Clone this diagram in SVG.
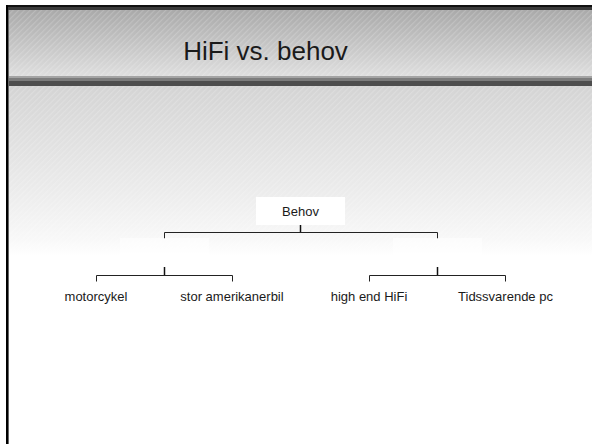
<svg xmlns="http://www.w3.org/2000/svg" width="592" height="444" viewBox="0 0 592 444">
<defs>
<linearGradient id="hdr" x1="0" y1="0" x2="0" y2="1">
<stop offset="0" stop-color="#a9a9a9"/>
<stop offset="1" stop-color="#dedede"/>
</linearGradient>
<linearGradient id="body" x1="0" y1="0" x2="0" y2="1">
<stop offset="0" stop-color="#d4d4d4"/>
<stop offset="0.6" stop-color="#ebebeb"/>
<stop offset="0.9" stop-color="#f8f8f8"/>
<stop offset="1" stop-color="#ffffff"/>
</linearGradient>
<pattern id="hatch" width="4" height="4" patternUnits="userSpaceOnUse" patternTransform="rotate(-45)">
<rect width="4" height="1.2" fill="#ffffff" opacity="0.18"/>
</pattern>
<style>
.lbl{font-family:"Liberation Sans",Arial,sans-serif;font-size:13px;fill:#1a1a1a;text-anchor:middle}
.title{font-family:"Liberation Sans",Arial,sans-serif;font-size:26px;fill:#1a1a1a;text-anchor:middle}
.ln{stroke:#222;stroke-width:1;fill:none}
.tk{stroke:#111;stroke-width:1.5;fill:none}
.box{fill:#ffffff}
.ghost{fill:#ffffff;opacity:0.5}
</style>
</defs>
<rect width="592" height="444" fill="#ffffff"/>
<rect x="6" y="86" width="586" height="170" fill="url(#body)"/>
<rect x="6" y="86" width="586" height="170" fill="url(#hatch)"/>
<rect x="6" y="10" width="586" height="66" fill="url(#hdr)"/>
<rect x="6" y="10" width="586" height="66" fill="url(#hatch)"/>
<rect x="6" y="5" width="586" height="2" fill="#111"/>
<rect x="6" y="7" width="586" height="3" fill="#3a3a3a"/>
<rect x="6" y="76" width="586" height="2" fill="#a4a4a4"/>
<rect x="6" y="78" width="586" height="3" fill="#7c7c7c"/>
<rect x="6" y="81" width="586" height="5" fill="#4e4e4e"/>
<rect x="6" y="5" width="2" height="439" fill="#000"/>
<rect x="8" y="10" width="1" height="434" fill="#666"/>
<text class="title" x="265.5" y="60">HiFi vs. behov</text>
<g id="connectors">
<line class="tk" x1="300.5" y1="225" x2="300.5" y2="232.5"/>
<polyline class="ln" points="164.5,238.5 164.5,232.5 437.5,232.5 437.5,238.5"/>
<line class="tk" x1="164.5" y1="267" x2="164.5" y2="275.5"/>
<polyline class="ln" points="96.5,281.5 96.5,275.5 232.5,275.5 232.5,281.5"/>
<line class="tk" x1="437.5" y1="267" x2="437.5" y2="275.5"/>
<polyline class="ln" points="369.5,281.5 369.5,275.5 505.5,275.5 505.5,281.5"/>
</g>
<g id="node-behov">
<rect class="box" x="256" y="197" width="89" height="28"/>
<text class="lbl" x="300.5" y="216">Behov</text>
</g>
<g id="node-group-left">
<rect class="ghost" x="120" y="238" width="89" height="29"/>
</g>
<g id="node-group-right">
<rect class="ghost" x="393" y="238" width="89" height="29"/>
</g>
<g id="node-motorcykel">
<rect class="ghost" x="34" y="282" width="124" height="30"/>
<text class="lbl" x="96" y="301">motorcykel</text>
</g>
<g id="node-amerikanerbil">
<rect class="ghost" x="170" y="282" width="124" height="30"/>
<text class="lbl" x="232" y="301">stor amerikanerbil</text>
</g>
<g id="node-hifi">
<rect class="ghost" x="307" y="282" width="124" height="30"/>
<text class="lbl" x="369" y="301">high end HiFi</text>
</g>
<g id="node-pc">
<rect class="ghost" x="443" y="282" width="124" height="30"/>
<text class="lbl" x="505.5" y="301">Tidssvarende pc</text>
</g>
</svg>
